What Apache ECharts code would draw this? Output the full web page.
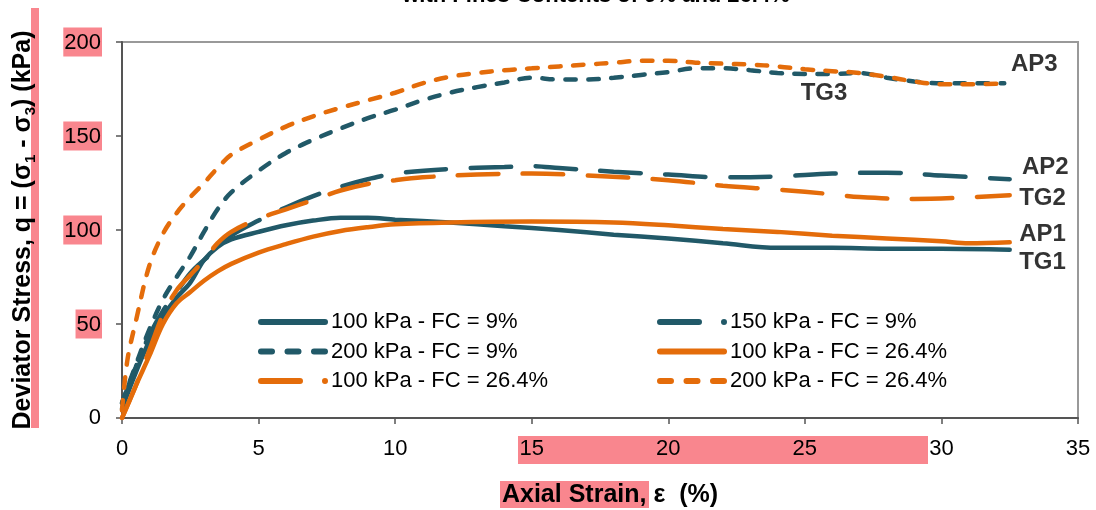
<!DOCTYPE html>
<html>
<head>
    <meta charset="utf-8">
    <title>Deviator Stress vs Axial Strain</title>
    <script src="https://cdn.jsdelivr.net/npm/echarts@6/dist/echarts.min.js"></script>
    <style>
        html, body { margin: 0; padding: 0; background: #fff; }
    </style>
</head>
<body>
    <div id="main" style="width: 1096px;height:510px;"></div>
    <script type="text/javascript">
        // strain (%) / deviator stress (kPa) pairs
        var s100fc9 = [[0,5],[0.5,24],[1,41],[1.5,54],[2,64],[2.5,72],[3,84],[3.5,91],[4,95],[5,99],[6,102.5],[7,105],[8,106.5],[9,106.5],[10,105.5],[12,104],[14,102],[16,100],[18,97.5],[20,95.5],[22,93],[24,90.5],[26,90.5],[28,90],[30,90],[32.5,89.5]];
        var s150fc9 = [[0,8],[0.5,27],[1,44],[1.5,57],[2,67],[2.5,77],[3,84],[3.5,90],[4,97],[5,105],[6,112],[7,118],[8,123],[9,127],[10,130],[12,132.5],[14,133.5],[15,134],[16,133],[18,131],[20,129.5],[22,128],[24,128.5],[26,130],[28,130.5],[30,129],[32.5,127]];
        var s200fc9 = [[0,8],[0.5,28],[1,47],[1.5,63],[2,75],[2.5,86],[3,99],[3.5,111],[4,120],[5,131.5],[6,141],[7,148],[8,154],[9,159.5],[10,164],[11,169],[12,173],[13,176],[14,178.5],[15,181],[16,180],[17,180],[18,181],[19,182.5],[20,184],[21,186],[22,186],[23,185],[24,183.5],[25,183],[26,183],[27,183.5],[28,181],[29,179],[30,178],[31,178],[32.3,178]];
        var s100fc26 = [[0,0],[0.5,17],[1,33],[1.5,50],[2,61],[2.5,67],[3,73],[3.5,78],[4,82],[5,88],[6,92.5],[7,96.5],[8,99.5],[9,101.5],[10,103],[12,104],[15,104.5],[18,104],[20,102.5],[22,100.5],[24,99],[26,97],[28,95.5],[30,94],[31,93],[32.5,93.5]];
        var s150fc26 = [[0,0],[0.5,17],[1,36],[1.5,55],[2,68],[2.5,76],[3,84],[3.5,93],[4,99],[5,106],[6,111],[7,116],[8,121],[9,124.5],[10,126.5],[11,128],[13,129.5],[15,130],[17,129],[20,126.5],[22,123.5],[24,121.5],[26,119],[27,117.5],[29,116.5],[32.5,118.5]];
        var s200fc26 = [[0,4],[0.2,31],[0.5,51],[1,81],[1.5,98],[2,109],[2.5,117.5],[3,125],[3.5,133],[4,140],[5,148],[6,155],[7,160.5],[8,165],[9,169],[10,173],[11,178],[12,181.5],[13,183.5],[14,185],[15,186],[16,187],[17,188],[18,189],[19,190],[20,190],[21,189],[22,188.5],[23,188],[24,187],[25,185.5],[26,184.5],[27,183.5],[28,181.5],[29,179],[30,177.5],[31,177.5],[32.4,178]];

        // legend names (the picture repeats "100 kPa - FC = 26.4%", trailing space keeps them apart)
        var names = ['100 kPa - FC = 9%', '150 kPa - FC = 9%', '200 kPa - FC = 9%',
                     '100 kPa - FC = 26.4%', '100 kPa - FC = 26.4% ', '200 kPa - FC = 26.4%'];

        // curve tags [strain, stress, text]
        var tags = [[33.4,188,'AP3'],[25.7,172.5,'TG3'],[33.8,133.5,'AP2'],[33.7,117,'TG2'],[33.7,97.5,'AP1'],[33.7,83,'TG1']];

        var teal = '#215968';
        var orange = '#E46C0A';
        var pink = '#F9868E';
        var axisColor = '#555';

        var shortDash = [10.5, 12.5];
        var longDash = [40.5, 24.5];

        // legend icons (70 x 6 box, rounded dashes)
        function capsule(x, len) {
            return 'M' + x + ',0h' + len + 'a3,3 0 0 1 0,6h-' + len + 'a3,3 0 0 1 0,-6z';
        }
        var iconSolid = 'path://' + capsule(3, 64);
        var iconShort = 'path://' + capsule(3, 11) + ' ' + capsule(29.5, 11) + ' ' + capsule(56, 11);
        var iconLong = 'path://' + capsule(3, 39) + ' ' + capsule(67, 0);

        function curve(name, data, color, dash) {
            return {
                name: name,
                type: 'line',
                data: data,
                smooth: 0.35,
                symbol: 'none',
                color: color,
                lineStyle: { color: color, width: 4.5, type: dash, cap: 'round' }
            };
        }

        // one legend per entry so each icon can be drawn on its own
        function leg(name, icon, color, col, row) {
            return {
                data: [name],
                icon: icon,
                padding: 0,
                left: col === 0 ? 258 : 657,
                top: 311 + row * 29.5,
                itemWidth: 70, itemHeight: 6,
                itemStyle: { color: color, borderWidth: 0 },
                textStyle: { fontSize: 22, color: '#000', lineHeight: 22, padding: [0, 0, 0, -2] }
            };
        }

        var myChart = echarts.init(document.getElementById('main'));

        var option = {
            animation: false,
            backgroundColor: '#fff',
            textStyle: { fontFamily: 'Liberation Sans, Arial, sans-serif' },
            grid: { left: 122, right: 18, top: 42, bottom: 92, containLabel: false, outerBoundsMode: 'none',
                show: true, borderColor: '#999', borderWidth: 2 },
            graphic: [
                { type: 'rect', z: -10, shape: { x: 31, y: 8, width: 8, height: 420 }, style: { fill: pink } },
                { type: 'rect', z: -10, shape: { x: 518, y: 436, width: 410, height: 28 }, style: { fill: pink } },
                { type: 'rect', z: -10, shape: { x: 500, y: 481, width: 149, height: 27 }, style: { fill: pink } },
                { type: 'text', style: { text: 'with Fines Contents of 9% and 26.4%', x: 596, y: 7, align: 'center', verticalAlign: 'bottom',
                    font: 'bold 22px "Liberation Sans", Arial, sans-serif', fill: '#000' } }
            ],
            legend: [
                leg(names[0], iconSolid, teal, 0, 0),
                leg(names[2], iconShort, teal, 0, 1),
                leg(names[4], iconLong, orange, 0, 2),
                leg(names[1], iconLong, teal, 1, 0),
                leg(names[3], iconSolid, orange, 1, 1),
                leg(names[5], iconShort, orange, 1, 2)
            ],
            xAxis: {
                type: 'value', min: 0, max: 35, interval: 5,
                name: 'Axial Strain, ε  (%)', nameLocation: 'middle', nameGap: 65,
                nameTextStyle: { fontSize: 25, fontWeight: 'bold', color: '#000', padding: [0, 0, 0, 20] },
                axisLine: { lineStyle: { color: axisColor, width: 2 } },
                axisTick: { length: 6, lineStyle: { color: axisColor, width: 1.5 } },
                axisLabel: { fontSize: 22, color: '#000', margin: 20 },
                splitLine: { show: false }
            },
            yAxis: {
                type: 'value', min: 0, max: 200, interval: 50,
                name: '{m|Deviator Stress, q = (σ}{s|1}{m| - σ}{s|3}{m|) (kPa)}',
                nameLocation: 'middle', nameGap: 84, nameRotate: 90,
                nameTextStyle: {
                    rich: {
                        m: { fontSize: 25, fontWeight: 'bold', color: '#000', lineHeight: 30 },
                        s: { fontSize: 15, fontWeight: 'bold', color: '#000', lineHeight: 15, verticalAlign: 'bottom' }
                    }
                },
                axisLine: { show: true, lineStyle: { color: axisColor, width: 2 } },
                axisTick: { show: true, length: 6, lineStyle: { color: axisColor, width: 1.5 } },
                axisLabel: {
                    margin: 20,
                    formatter: function (v) { return v === 0 ? '{n|0}' : '{h|' + v + '}'; },
                    rich: {
                        n: { fontSize: 22, color: '#000', padding: [3, 1] },
                        h: { fontSize: 22, color: '#000', backgroundColor: pink, padding: [4, 1, 3, 1] }
                    }
                },
                splitLine: { show: false }
            },
            series: [
                curve(names[0], s100fc9, teal, 'solid'),
                curve(names[1], s150fc9, teal, longDash),
                curve(names[2], s200fc9, teal, shortDash),
                curve(names[3], s100fc26, orange, 'solid'),
                curve(names[4], s150fc26, orange, longDash),
                curve(names[5], s200fc26, orange, shortDash),
                {
                    type: 'scatter', data: tags, symbolSize: 1, silent: true,
                    itemStyle: { color: 'rgba(0,0,0,0)' },
                    label: { show: true, position: 'inside', formatter: function (p) { return p.data[2]; },
                        fontSize: 24, fontWeight: 'bold', color: '#000' }
                }
            ]
        };

        myChart.setOption(option);
    </script>
</body>
</html>
